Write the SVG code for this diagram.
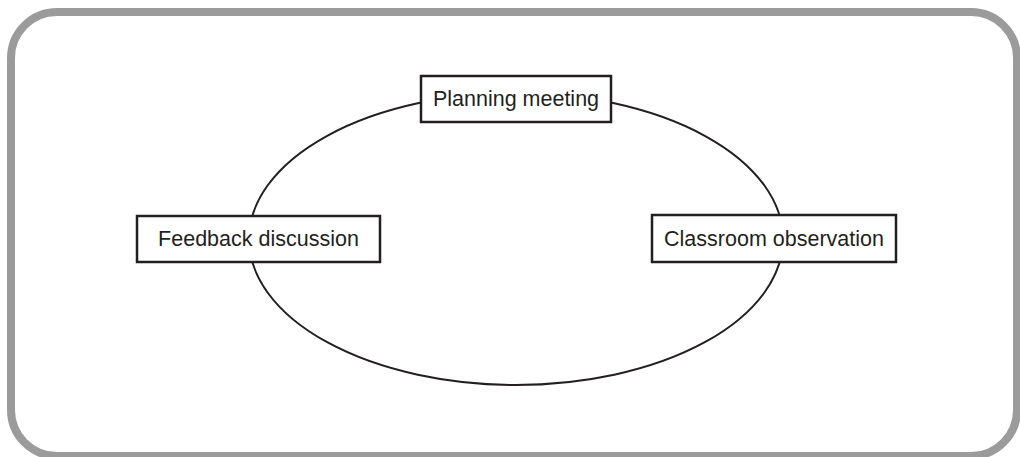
<svg xmlns="http://www.w3.org/2000/svg" width="1020" height="457" viewBox="0 0 1020 457">
<style>
.frame{fill:#fff;stroke:#9b9b9b;stroke-width:8}
.cycle{fill:none;stroke:#231f20;stroke-width:2}
.box{fill:#fff;stroke:#231f20;stroke-width:2.5}
.lbl{font-family:"Liberation Sans",Arial,sans-serif;font-size:21.5px;fill:#231f20;text-anchor:middle}
</style>
<rect class="frame" x="11" y="12" width="1006" height="444" rx="46" ry="46"/>
<g id="connectors">
<ellipse class="cycle" cx="516" cy="239" rx="267" ry="146"/>
</g>
<g id="planning">
<rect class="box" x="421" y="76" width="190" height="46"/>
<text class="lbl" x="516" y="106">Planning meeting</text>
</g>
<g id="feedback">
<rect class="box" x="137" y="216" width="243" height="46"/>
<text class="lbl" x="258.5" y="246">Feedback discussion</text>
</g>
<g id="observation">
<rect class="box" x="652" y="215" width="244" height="47"/>
<text class="lbl" x="774" y="246">Classroom observation</text>
</g>
</svg>
